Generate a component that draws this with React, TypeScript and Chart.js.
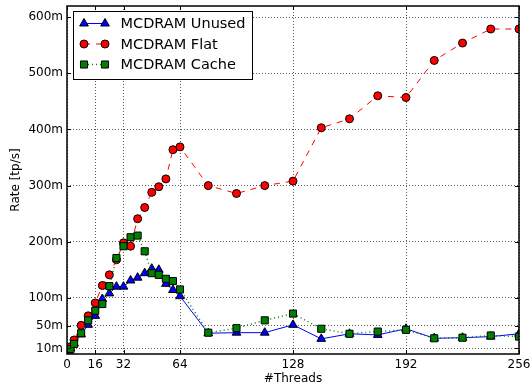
import React, { useEffect, useRef } from "react";
import { Chart, registerables } from "chart.js";

Chart.register(...registerables);

const threads = [1, 2, 4, 8, 12, 16, 20, 24, 28, 32, 36, 40, 44, 48, 52, 56, 60, 64, 80, 96, 112, 128, 144, 160, 176, 192, 208, 224, 240, 256];
const unused = [5, 10, 19, 35, 52, 68, 98, 108, 120, 120, 131, 136, 144, 152, 150, 125, 114, 103, 37, 38, 38, 52, 27, 36, 34, 45, 28, 29, 31, 36];
const flat = [7, 13, 25, 51, 68, 91, 122, 141, 168, 198, 192, 241, 261, 288, 298, 312, 364, 369, 300, 286, 300, 308, 403, 419, 460, 457, 523, 554, 579, 579];
const cache = [5, 9, 18, 37, 60, 77, 89, 121, 171, 192, 208, 211, 183, 144, 141, 134, 130, 115, 38, 46, 60, 72, 45, 36, 40, 43, 28, 29, 33, 31];

const xTicks = [0, 16, 32, 64, 128, 192, 256];
const yTicks = [10, 50, 100, 200, 300, 400, 500, 600];
const seriesLabels = ["MCDRAM Unused", "MCDRAM Flat", "MCDRAM Cache"];

const FONT = "'DejaVu Sans', sans-serif";

function drawMarker(ctx: CanvasRenderingContext2D, style: string, x: number, y: number, r: number) {
  ctx.beginPath();
  if (style === "circle") {
    ctx.arc(x, y, r, 0, Math.PI * 2);
  } else if (style === "rect") {
    const s = r * Math.SQRT1_2;
    ctx.rect(x - s, y - s, 2 * s, 2 * s);
  } else {
    let rad = 0;
    ctx.moveTo(x + Math.sin(rad) * r, y - Math.cos(rad) * r);
    rad += (2 * Math.PI) / 3;
    ctx.lineTo(x + Math.sin(rad) * r, y - Math.cos(rad) * r);
    rad += (2 * Math.PI) / 3;
    ctx.lineTo(x + Math.sin(rad) * r, y - Math.cos(rad) * r);
    ctx.closePath();
  }
  ctx.fill();
  ctx.stroke();
}

const framePlugin = {
  id: "frame",
  afterDatasetsDraw(chart: any) {
    const { ctx, chartArea: a, scales } = chart;
    ctx.save();
    ctx.strokeStyle = "#000";
    ctx.lineWidth = 1;
    ctx.setLineDash([]);
    const seg = (x1: number, y1: number, x2: number, y2: number) => {
      ctx.beginPath();
      ctx.moveTo(x1, y1);
      ctx.lineTo(x2, y2);
      ctx.stroke();
    };
    for (const t of xTicks) {
      const x = Math.round(scales.x.getPixelForValue(t)) + 0.5;
      seg(x, a.bottom, x, a.bottom - 4);
      seg(x, a.top, x, a.top + 4);
    }
    for (const t of yTicks) {
      const y = Math.round(scales.y.getPixelForValue(t)) + 0.5;
      seg(a.left, y, a.left + 4, y);
      seg(a.right, y, a.right - 4, y);
    }
    ctx.lineWidth = 1.5;
    ctx.strokeRect(a.left, a.top, a.right - a.left, a.bottom - a.top);
    ctx.restore();
  },
};

const legendPlugin = {
  id: "boxLegend",
  afterDraw(chart: any) {
    const ctx: CanvasRenderingContext2D = chart.ctx;
    const ds = chart.data.datasets;
    ctx.save();
    const bx = 73.5, by = 11.5, bw = 179, bh = 68;
    ctx.fillStyle = "#fff";
    ctx.fillRect(bx, by, bw, bh);
    ctx.strokeStyle = "#000";
    ctx.lineWidth = 1;
    ctx.setLineDash([]);
    ctx.strokeRect(bx, by, bw, bh);
    [0, 1, 2].forEach((i, row) => {
      const d = ds[i];
      const y = 23.5 + row * 20.5;
      const x1 = 84, x2 = 105;
      ctx.save();
      ctx.strokeStyle = d.borderColor;
      ctx.lineWidth = d.borderWidth;
      ctx.setLineDash(d.borderDash || []);
      ctx.beginPath();
      ctx.moveTo(x1, y);
      ctx.lineTo(x2, y);
      ctx.stroke();
      ctx.restore();
      ctx.save();
      ctx.fillStyle = d.pointBackgroundColor;
      ctx.strokeStyle = d.pointBorderColor;
      ctx.lineWidth = d.pointBorderWidth;
      ctx.setLineDash([]);
      drawMarker(ctx, d.pointStyle, x1, y, d.pointRadius);
      drawMarker(ctx, d.pointStyle, x2, y, d.pointRadius);
      ctx.restore();
      ctx.fillStyle = "#000";
      ctx.font = `14.5px ${FONT}`;
      ctx.textBaseline = "middle";
      ctx.textAlign = "left";
      ctx.fillText(d.label, 120.5, y + 1);
    });
    ctx.restore();
  },
};

export default function App() {
  const ref = useRef<HTMLCanvasElement>(null);
  useEffect(() => {
    document.body.style.margin = "0";
    const mk = (vals: number[]) => threads.map((t, i) => ({ x: t, y: vals[i] }));
    const chart = new Chart(ref.current!, {
      type: "line",
      data: {
        datasets: [
          {
            label: seriesLabels[0],
            data: mk(unused),
            borderColor: "#0000ff",
            borderWidth: 1,
            borderDash: [],
            pointStyle: "triangle",
            pointRadius: 5,
            pointBackgroundColor: "#0000ff",
            pointBorderColor: "#000",
            pointBorderWidth: 1,
            order: 2,
            tension: 0,
          },
          {
            label: seriesLabels[1],
            data: mk(flat),
            borderColor: "#ff0000",
            borderWidth: 1,
            borderDash: [6, 6],
            pointStyle: "circle",
            pointRadius: 4,
            pointBackgroundColor: "#ff0000",
            pointBorderColor: "#000",
            pointBorderWidth: 1,
            order: 1,
            tension: 0,
          },
          {
            label: seriesLabels[2],
            data: mk(cache),
            borderColor: "#008000",
            borderWidth: 1.5,
            borderDash: [1, 3],
            pointStyle: "rect",
            pointRadius: 5,
            pointBackgroundColor: "#008000",
            pointBorderColor: "#000",
            pointBorderWidth: 1,
            order: 0,
            tension: 0,
          },
        ] as any,
      },
      options: {
        animation: false,
        responsive: false,
        layout: { padding: { top: 4, right: 12, bottom: 0, left: 0 } },
        plugins: { legend: { display: false }, tooltip: { enabled: false } },
        scales: {
          x: {
            type: "linear",
            min: 0,
            max: 256,
            afterBuildTicks: (s: any) => {
              s.ticks = xTicks.map((v) => ({ value: v }));
            },
            afterFit: (s: any) => {
              s.height = 36;
              s.paddingLeft = 0;
              s.paddingRight = 0;
            },
            ticks: {
              padding: 4,
              color: "#000",
              font: { family: FONT, size: 12 },
              maxRotation: 0,
              autoSkip: false,
              callback: (v: any) => String(v),
            },
            grid: { color: "rgba(0,0,0,0.65)", lineWidth: 1, drawTicks: false },
            border: { display: false, dash: [1, 2] },
            title: {
              display: true,
              text: "#Threads",
              color: "#000",
              font: { family: FONT, size: 12 },
              padding: { top: 0, bottom: 4 },
            },
          },
          y: {
            type: "linear",
            min: 0,
            max: 620,
            afterBuildTicks: (s: any) => {
              s.ticks = yTicks.map((v) => ({ value: v }));
            },
            afterFit: (s: any) => {
              s.width = 67;
              s.paddingTop = 0;
              s.paddingBottom = 0;
            },
            ticks: {
              padding: 4,
              color: "#000",
              font: { family: FONT, size: 12 },
              autoSkip: false,
              callback: (v: any) => `${v}m`,
            },
            grid: { color: "rgba(0,0,0,0.65)", lineWidth: 1, drawTicks: false },
            border: { display: false, dash: [1, 2] },
            title: {
              display: true,
              text: "Rate [tp/s]",
              color: "#000",
              font: { family: FONT, size: 12 },
              padding: { top: 9, bottom: 0 },
            },
          },
        },
      } as any,
      plugins: [framePlugin, legendPlugin],
    });
    return () => chart.destroy();
  }, []);
  return (
    <div style={{ width: 531, height: 390 }}>
      <canvas ref={ref} width={531} height={390} style={{ display: "block" }} />
    </div>
  );
}
